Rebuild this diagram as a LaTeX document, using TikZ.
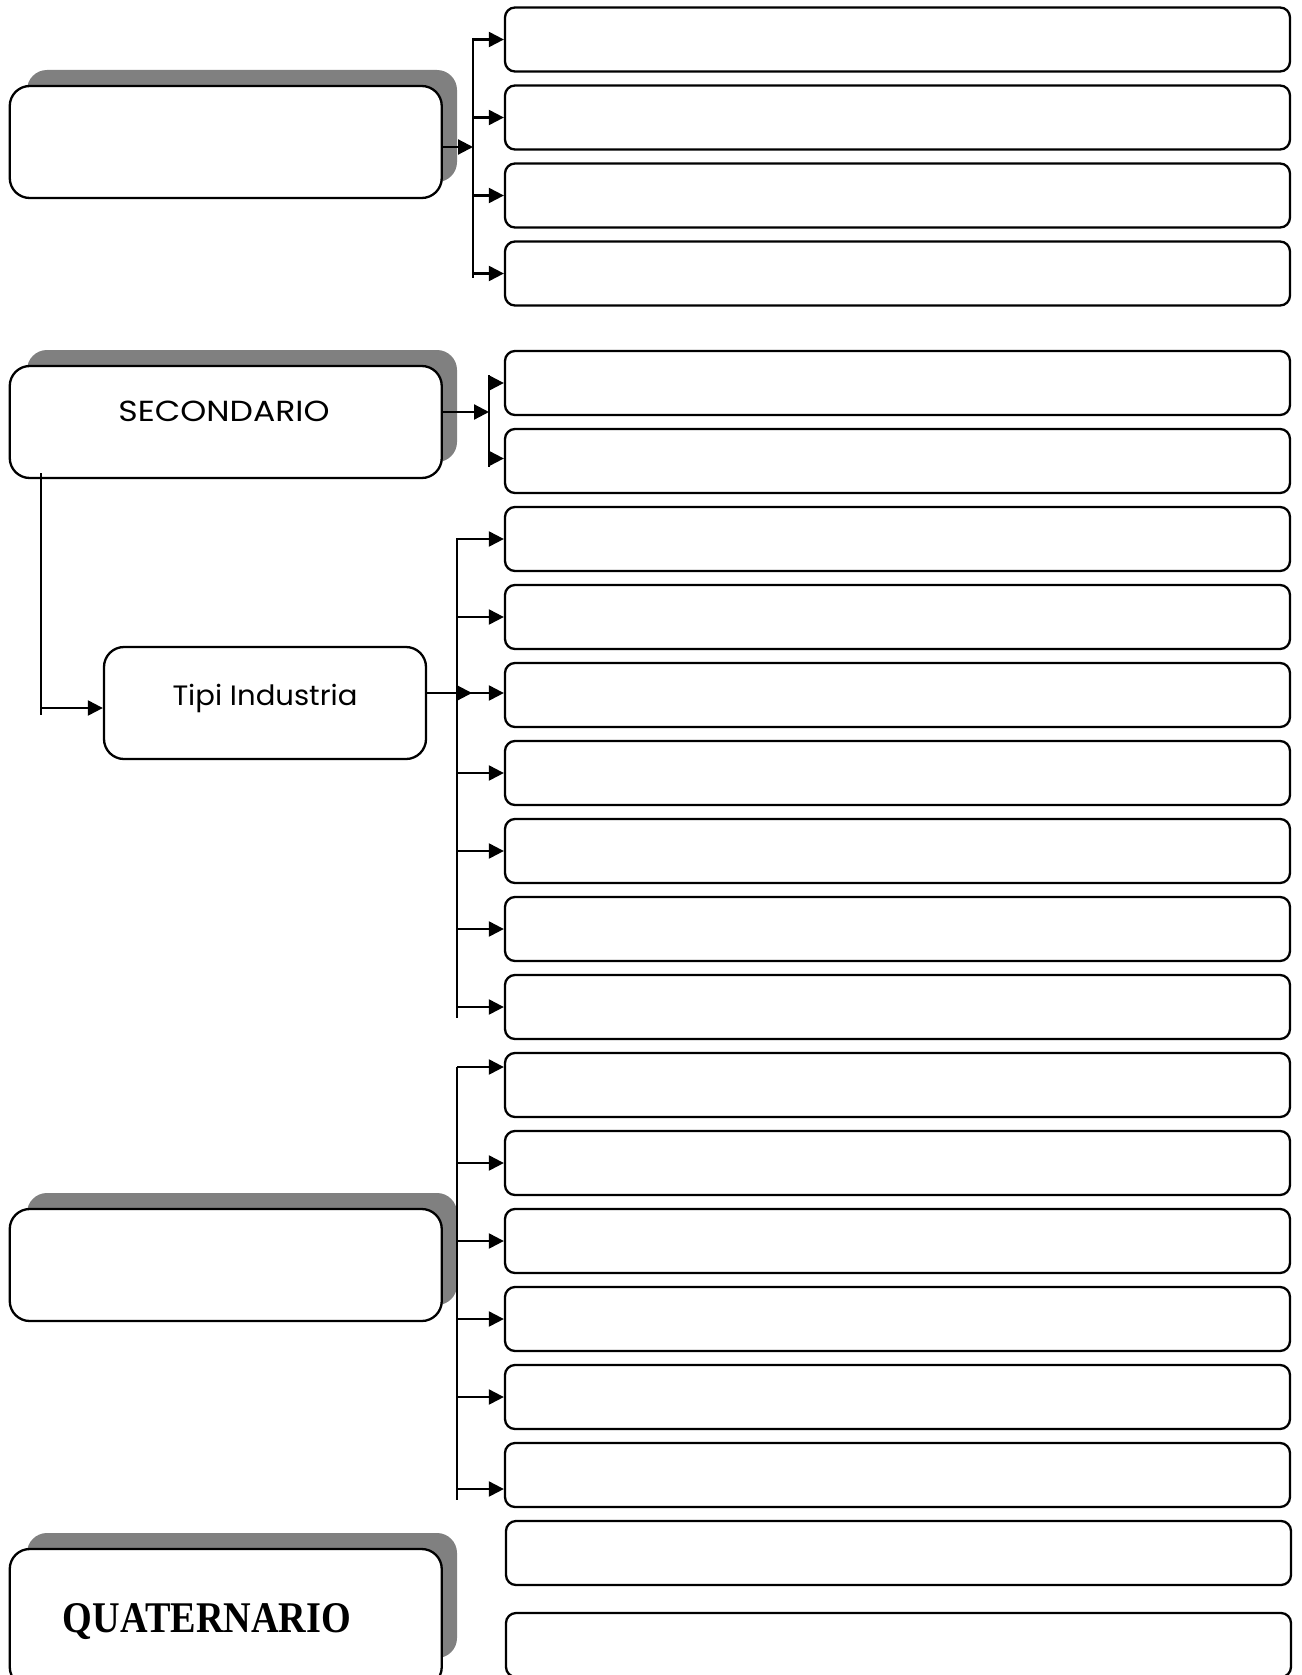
\documentclass[tikz,border=0pt]{standalone}
\usepackage{fontspec}
\usepackage{graphicx}
\newfontfamily\gothfont{Poppins}
\newfontfamily\qfont{Liberation Serif}
\usetikzlibrary{arrows.meta,calc}
\definecolor{shadowgray}{RGB}{128,128,128}
\begin{document}
\begin{tikzpicture}[x=1pt,y=-1pt,
  bigbox/.style={draw,line width=2.3pt,rounded corners=20pt,fill=white,minimum width=432pt,minimum height=112pt,inner sep=0pt},
  shadowbox/.style={fill=shadowgray,rounded corners=20pt,minimum width=430pt,minimum height=112pt,inner sep=0pt},
  rbox/.style={draw,line width=2.3pt,rounded corners=10pt,fill=white,minimum width=785pt,minimum height=64pt,inner sep=0pt},
  conn/.style={line width=2.2pt},
  arr/.style={line width=2.2pt,-{Triangle[length=15pt,width=15pt]}},
  lbl/.style={anchor=base,inner sep=0pt}
]
\useasboundingbox (0,0) rectangle (1301,1675);
\clip (0,0) rectangle (1301,1675);
\fill[white] (0,0) rectangle (1301,1675);

% shadows
\node[shadowbox] (sh1) at (242,126) {};
\node[shadowbox] (sh2) at (242,406) {};
\node[shadowbox] (sh3) at (242,1249) {};
\node[shadowbox,minimum height=125pt] (sh4) at (242,1595.5) {};

% main boxes
\node[bigbox] (prim) at (225.75,142) {};
\node[bigbox] (sec) at (225.75,422) {};
\node[bigbox] (terz) at (225.75,1265) {};
\node[bigbox,minimum height=138pt] (quat) at (225.75,1618) {};
\node[bigbox,minimum width=322pt] (tipi) at (265,703) {};

% labels
\node[lbl] (sectext) at (224,421.5) {\resizebox{211pt}{20.5pt}{\gothfont SECONDARIO}};
\node[lbl] (tipitext) at (265,705) {\resizebox{185pt}{\height}{\gothfont\fontsize{28}{32}\selectfont Tipi Industria}};
\node[lbl] (quattext) at (207,1632) {\resizebox{288pt}{29pt}{\qfont\bfseries QUATERNARIO}};

% right boxes
\foreach \i/\y in {1/39.5,2/117.5,3/195.5,4/273.5,5/383,6/461,7/539,8/617,9/695,10/773,11/851,12/929,13/1007,14/1085,15/1163,16/1241,17/1319,18/1397,19/1475}
  \node[rbox] (r\i) at (897.5,\y) {};
\node[rbox] (r20) at (898.5,1553) {};
\node[rbox] (r21) at (898.5,1645) {};

% section 1 connectors
\coordinate (b1t) at (473,38);
\coordinate (b1b) at (473,278);
\draw[conn] (b1t) -- (b1b);
\coordinate (p1) at ([yshift=-5pt]prim.east);
\draw[arr] (p1) -- (p1 -| b1t);
\foreach \i in {1,...,4}
  \draw[arr] (b1t |- r\i.west) -- (r\i.west);

% section 2 connectors
\coordinate (b2t) at (489,375);
\coordinate (b2b) at (489,467);
\draw[conn] (b2t) -- (b2b);
\coordinate (p2) at ([yshift=10pt]sec.east);
\draw[arr] (p2) -- (p2 -| b2t);
\draw[arr] (b2t |- r5.west) -- (r5.west);
\coordinate (p2b) at ([yshift=2.5pt]r6.west);
\draw[arr] (b2t |- p2b) -- (p2b);

% secondario to tipi
\coordinate (v1) at (40.7,473);
\coordinate (v2) at (40.7,715);
\draw[conn] (v1) -- (v2);
\coordinate (h1) at (40.7,708);
\draw[arr] (h1) -- (h1 -| tipi.west);

% tipi connectors
\coordinate (b3t) at (457,538);
\coordinate (b3b) at (457,1018);
\draw[conn] (b3t) -- (b3b);
\coordinate (p3) at ([yshift=10pt]tipi.east);
\draw[arr] (p3) -- ($(p3 -| b3t)+(15,0)$);
\foreach \i in {7,8,10,11,12,13}
  \draw[arr] (b3t |- r\i.west) -- (r\i.west);
\draw[arr] (b3t |- p3) -- (p3 -| r9.west);

% section 3 connectors
\coordinate (b4t) at (457,1067);
\coordinate (b4b) at (457,1500);
\draw[conn] (b4t) -- (b4b);
\draw[arr] (b4t) -- (b4t -| r14.west);
\foreach \i in {15,16,17,18}
  \draw[arr] (b4t |- r\i.west) -- (r\i.west);
\coordinate (b4l) at (457,1489);
\draw[arr] (b4l) -- (b4l -| r19.west);
\end{tikzpicture}
\end{document}
